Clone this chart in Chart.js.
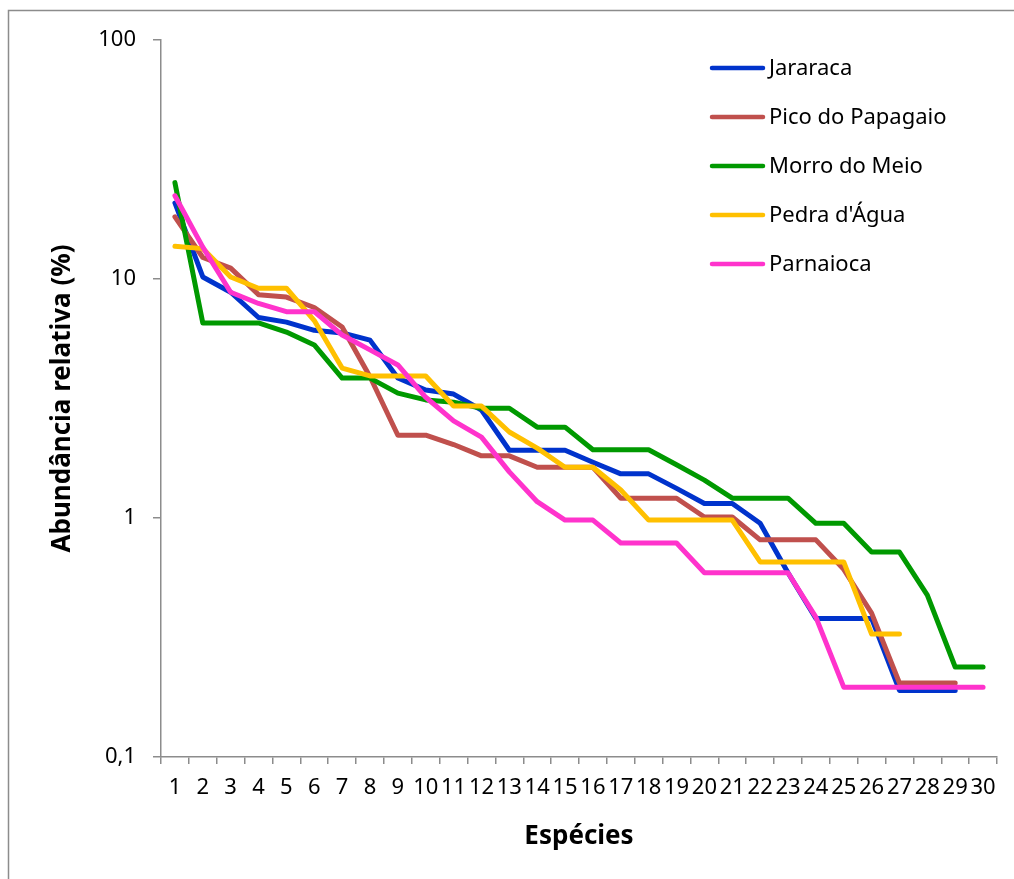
<!DOCTYPE html>
<html>
<head>
<meta charset="utf-8">
<script src="https://cdn.jsdelivr.net/npm/chart.js@4"></script>
<style>
  html, body { margin: 0; padding: 0; background: #fff; }
  #wrap { position: absolute; left: 0; top: 0; width: 1014px; height: 879px; }
</style>
</head>
<body>
<div id="wrap"><canvas id="myChart" width="1014" height="879"></canvas></div>
<script>
// species rank 1..30
const species = ['1','2','3','4','5','6','7','8','9','10','11','12','13','14','15','16','17','18','19','20','21','22','23','24','25','26','27','28','29','30'];

// relative abundance (%) per site
const jararaca = [20.8, 10.2, 8.8, 6.9, 6.6, 6.1, 5.95, 5.55, 3.85, 3.43, 3.3, 2.83, 1.92, 1.92, 1.92, 1.71, 1.53, 1.53, 1.33, 1.15, 1.15, 0.95, 0.59, 0.38, 0.38, 0.38, 0.19, 0.19, 0.19];
const picoPapagaio = [18.2, 12.3, 11.1, 8.6, 8.4, 7.6, 6.3, 3.9, 2.22, 2.22, 2.03, 1.82, 1.82, 1.63, 1.63, 1.63, 1.21, 1.21, 1.21, 1.01, 1.01, 0.81, 0.81, 0.81, 0.61, 0.4, 0.204, 0.204, 0.204];
const morroMeio = [25.3, 6.55, 6.55, 6.55, 6.0, 5.3, 3.85, 3.85, 3.33, 3.12, 3.05, 2.88, 2.88, 2.4, 2.4, 1.93, 1.93, 1.93, 1.67, 1.44, 1.21, 1.21, 1.21, 0.95, 0.95, 0.72, 0.72, 0.476, 0.238, 0.238];
const pedraAgua = [13.7, 13.4, 10.2, 9.15, 9.15, 6.7, 4.24, 3.93, 3.93, 3.93, 2.94, 2.94, 2.29, 1.96, 1.63, 1.63, 1.31, 0.98, 0.98, 0.98, 0.98, 0.655, 0.655, 0.655, 0.655, 0.327, 0.327];
const parnaioca = [22.3, 13.6, 8.8, 7.9, 7.3, 7.3, 5.83, 5.05, 4.37, 3.2, 2.55, 2.18, 1.56, 1.17, 0.98, 0.98, 0.786, 0.786, 0.786, 0.59, 0.59, 0.59, 0.59, 0.385, 0.196, 0.196, 0.196, 0.196, 0.196, 0.196];

const seriesNames = ['Jararaca', 'Pico do Papagaio', 'Morro do Meio', "Pedra d'Água", 'Parnaioca'];
const seriesColors = ['#0033CC', '#C0504D', '#009900', '#FFC000', '#FF33CC'];
const yTicks = [0.1, 1, 10, 100];

const FONT = "'Noto Sans', sans-serif";

// outer frame of the chart object (only left and top edges show)
const framePlugin = {
  id: 'frame',
  beforeDraw(chart) {
    const c = chart.ctx;
    c.save();
    c.fillStyle = '#fff';
    c.fillRect(0, 0, chart.width, chart.height);
    c.strokeStyle = '#8c8c8c';
    c.lineWidth = 1.5;
    c.strokeRect(8.5, 10.5, 1100, 1000);
    c.restore();
  }
};

// legend drawn inside the plot area, top right
const insideLegend = {
  id: 'insideLegend',
  afterDraw(chart) {
    const c = chart.ctx;
    c.save();
    c.font = '22px ' + FONT;
    c.textBaseline = 'middle';
    chart.data.datasets.forEach((ds, i) => {
      const y = 68 + i * 49;
      c.strokeStyle = ds.borderColor;
      c.lineWidth = 4.5;
      c.lineCap = 'round';
      c.beginPath();
      c.moveTo(712, y);
      c.lineTo(763, y);
      c.stroke();
      c.fillStyle = '#000';
      c.fillText(ds.label, 769, y + 1);
    });
    c.restore();
  }
};

const allSeries = [jararaca, picoPapagaio, morroMeio, pedraAgua, parnaioca];

new Chart(document.getElementById('myChart'), {
  type: 'line',
  data: {
    labels: species,
    datasets: allSeries.map((vals, i) => ({
      label: seriesNames[i],
      data: vals,
      borderColor: seriesColors[i],
      backgroundColor: seriesColors[i],
      borderWidth: 5,
      borderCapStyle: 'round',
      borderJoinStyle: 'round',
      pointRadius: 0,
      tension: 0,
      fill: false,
      order: allSeries.length - i
    }))
  },
  options: {
    responsive: false,
    animation: false,
    layout: { padding: { left: 0, top: 40, right: 17, bottom: 0 } },
    plugins: {
      legend: { display: false },
      tooltip: { enabled: false }
    },
    scales: {
      x: {
        type: 'category',
        offset: true,
        grid: { offset: true, drawOnChartArea: false, tickLength: 7, color: '#8c8c8c', lineWidth: 1.5 },
        border: { color: '#8c8c8c', width: 1.5 },
        ticks: { autoSkip: false, maxRotation: 0, minRotation: 0, padding: 11, color: '#000', font: { family: FONT, size: 22 } },
        title: { display: true, text: 'Espécies', color: '#000', font: { family: FONT, size: 26, weight: 'bold' }, padding: { top: 0, bottom: 27 } },
        afterFit: s => { s.height = 122; }
      },
      y: {
        type: 'logarithmic',
        min: 0.1,
        max: 100,
        grid: { drawOnChartArea: false, tickLength: 8, color: '#8c8c8c', lineWidth: 1.5 },
        border: { color: '#8c8c8c', width: 1.5 },
        afterBuildTicks: s => { s.ticks = yTicks.map(v => ({ value: v })); },
        ticks: {
          padding: 17,
          color: '#000',
          font: { family: FONT, size: 22 },
          callback: v => String(v).replace('.', ',')
        },
        title: { display: true, text: 'Abundância relativa (%)', color: '#000', font: { family: FONT, size: 26, weight: 'bold' }, padding: { top: 47, bottom: 0 } },
        afterFit: s => { s.width = 161; }
      }
    }
  },
  plugins: [framePlugin, insideLegend]
});
</script>
</body>
</html>
